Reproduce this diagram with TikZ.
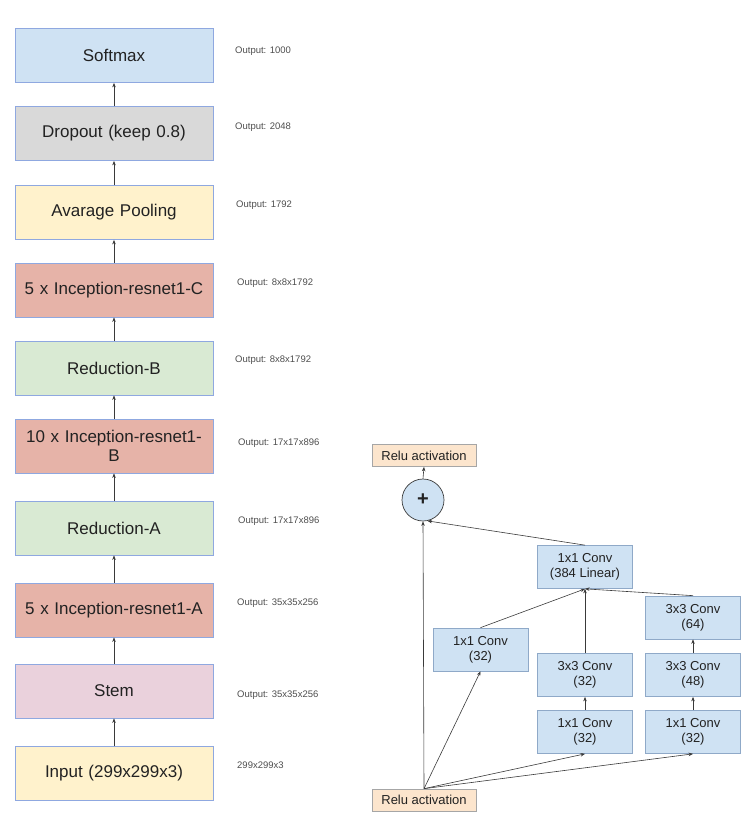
\documentclass[tikz,border=0pt]{standalone}
\usepackage{fontspec}
\setmainfont{Liberation Sans}
\usetikzlibrary{arrows.meta}
\definecolor{bluefill}{HTML}{CFE2F3}
\definecolor{grayfill}{HTML}{D9D9D9}
\definecolor{yellowfill}{HTML}{FFF2CC}
\definecolor{redfill}{HTML}{E6B3A8}
\definecolor{greenfill}{HTML}{D9EAD3}
\definecolor{pinkfill}{HTML}{EAD1DC}
\definecolor{peachfill}{HTML}{FCE5CD}
\definecolor{boxborder}{HTML}{8FA8E0}
\definecolor{rborder}{HTML}{8FA9C8}
\definecolor{txt}{HTML}{222222}
\definecolor{linec}{HTML}{3A3A3A}
\tikzset{
  lbox/.style={draw=boxborder, line width=0.8pt, minimum width=198pt, minimum height=54pt,
    inner sep=1pt, align=center, text width=190pt, text=txt, font=\fontsize{17}{19}\selectfont},
  outlbl/.style={anchor=west, inner sep=0pt, text=txt!80, font=\fontsize{9.5}{10}\selectfont},
  cbox/.style={draw=rborder, fill=bluefill, line width=0.7pt, minimum width=95pt, minimum height=43pt,
    inner sep=1pt, align=center, text=txt, font=\fontsize{13}{15}\selectfont},
  relubox/.style={draw=gray!70, fill=peachfill, line width=0.7pt, minimum width=104pt, minimum height=22pt,
    inner sep=1pt, text=txt, font=\fontsize{13}{15}\selectfont},
  arr/.style={draw=linec, line width=0.6pt, -{Stealth[length=4.5pt,width=3.5pt]}},
}
\begin{document}
\begin{tikzpicture}[x=1pt,y=-1pt]
\useasboundingbox (0,0) rectangle (743,821);
% left column
\node[lbox, fill=bluefill] (soft) at (114,55.5) {Softmax};
\node[lbox, fill=grayfill] (drop) at (114,133.5) {Dropout (keep 0.8)};
\node[lbox, fill=yellowfill] (pool) at (114,212.5) {Avarage Pooling};
\node[lbox, fill=redfill] (incc) at (114,290) {5 x Inception-resnet1-C};
\node[lbox, fill=greenfill] (redb) at (114,368) {Reduction-B};
\node[lbox, fill=redfill] (incb) at (114,446) {10 x Inception-resnet1-\\B};
\node[lbox, fill=greenfill] (reda) at (114,528) {Reduction-A};
\node[lbox, fill=redfill] (inca) at (114,610) {5 x Inception-resnet1-A};
\node[lbox, fill=pinkfill] (stem) at (114,691) {Stem};
\node[lbox, fill=yellowfill] (inp) at (114,773.5) {Input (299x299x3)};
\draw[arr] (drop) -- (soft);
\draw[arr] (pool) -- (drop);
\draw[arr] (incc) -- (pool);
\draw[arr] (redb) -- (incc);
\draw[arr] (incb) -- (redb);
\draw[arr] (reda) -- (incb);
\draw[arr] (inca) -- (reda);
\draw[arr] (stem) -- (inca);
\draw[arr] (inp) -- (stem);
% output labels
\node[outlbl] (o1) at (235,51) {Output: 1000};
\node[outlbl] (o2) at (235,127) {Output: 2048};
\node[outlbl] (o3) at (236,205) {Output: 1792};
\node[outlbl] (o4) at (237,283) {Output: 8x8x1792};
\node[outlbl] (o5) at (235,360) {Output: 8x8x1792};
\node[outlbl] (o6) at (238,443) {Output: 17x17x896};
\node[outlbl] (o7) at (238,521) {Output: 17x17x896};
\node[outlbl] (o8) at (237,603) {Output: 35x35x256};
\node[outlbl] (o9) at (237,695) {Output: 35x35x256};
\node[outlbl] (o10) at (237,765) {299x299x3};
% right diagram
\node[relubox] (rtop) at (424,455.5) {Relu activation};
\node[relubox] (rbot) at (424,800) {Relu activation};
\node[circle, draw=linec, fill=bluefill, line width=0.7pt, minimum size=42pt, inner sep=0pt,
  font=\fontsize{20}{20}\selectfont\bfseries, text=txt] (plus) at (423,500) {+};
\node[cbox] (c384) at (585,567) {1x1 Conv\\(384 Linear)};
\node[cbox] (c64) at (693,617.5) {3x3 Conv\\(64)};
\node[cbox] (cl) at (480.5,649.5) {1x1 Conv\\(32)};
\node[cbox] (c3m) at (585,675) {3x3 Conv\\(32)};
\node[cbox] (c48) at (693,675) {3x3 Conv\\(48)};
\node[cbox] (c1m) at (585,732) {1x1 Conv\\(32)};
\node[cbox] (c1r) at (693,732) {1x1 Conv\\(32)};
\coordinate (src) at (rbot.north);
\draw[arr] (src) -- (plus.south);
\draw[arr] (src) -- (cl.south);
\draw[arr] (src) -- (c1m.south);
\draw[arr] (src) -- (c1r.south);
\draw[arr] (c1m) -- (c3m);
\draw[arr] (c1r) -- (c48);
\draw[arr] (c48) -- (c64);
\draw[arr] (c3m.north) -- (c384.south);
\draw[arr] (cl.north) -- (c384.south);
\draw[arr] (c64.north) -- (c384.south);
\draw[arr] (c384.north) -- (plus.-78);
\draw[arr] (plus.north) -- (rtop.south);
\end{tikzpicture}
\end{document}
